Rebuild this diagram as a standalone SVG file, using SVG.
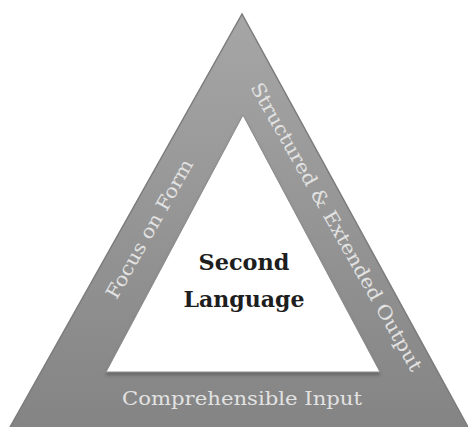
<svg xmlns="http://www.w3.org/2000/svg" width="468" height="427" viewBox="0 0 468 427">
<defs>
<linearGradient id="band" x1="0" y1="0" x2="0" y2="1">
<stop offset="0" stop-color="#a6a6a6"/>
<stop offset="1" stop-color="#848484"/>
</linearGradient>
<filter id="sh" x="-10%" y="-10%" width="120%" height="130%">
<feDropShadow dx="0" dy="3" stdDeviation="1.5" flood-color="#555" flood-opacity="0.6"/>
</filter>
</defs>
<style>
.lbl{font-family:"DejaVu Serif","Liberation Serif",serif;font-size:19px;fill:#e2e2e2;text-anchor:middle}
.ctr{font-family:"DejaVu Serif","Liberation Serif",serif;font-size:23px;font-weight:bold;fill:#1e1e1e;text-anchor:middle}
</style>
<rect width="468" height="427" fill="#ffffff"/>
<g id="outer">
<polygon points="242,14 9,429 469,429" fill="url(#band)" stroke="#7c7c7c" stroke-width="1.5"/>
</g>
<g id="inner">
<polygon points="243,115 106,372 380,372" fill="#ffffff" stroke="#8a8a8a" stroke-width="1" filter="url(#sh)"/>
<text class="ctr" x="244" y="270" textLength="91" lengthAdjust="spacingAndGlyphs">Second</text>
<text class="ctr" x="244" y="307" textLength="121" lengthAdjust="spacingAndGlyphs">Language</text>
</g>
<g id="focus">
<text class="lbl" transform="translate(150,229) rotate(-60.5)" x="0" y="6" textLength="157" lengthAdjust="spacingAndGlyphs">Focus on Form</text>
</g>
<g id="output">
<text class="lbl" transform="translate(336,227) rotate(60.5)" x="0" y="6" textLength="328" lengthAdjust="spacingAndGlyphs">Structured &amp; Extended Output</text>
</g>
<g id="input">
<text class="lbl" x="242" y="405" textLength="240" lengthAdjust="spacingAndGlyphs">Comprehensible Input</text>
</g>
</svg>
